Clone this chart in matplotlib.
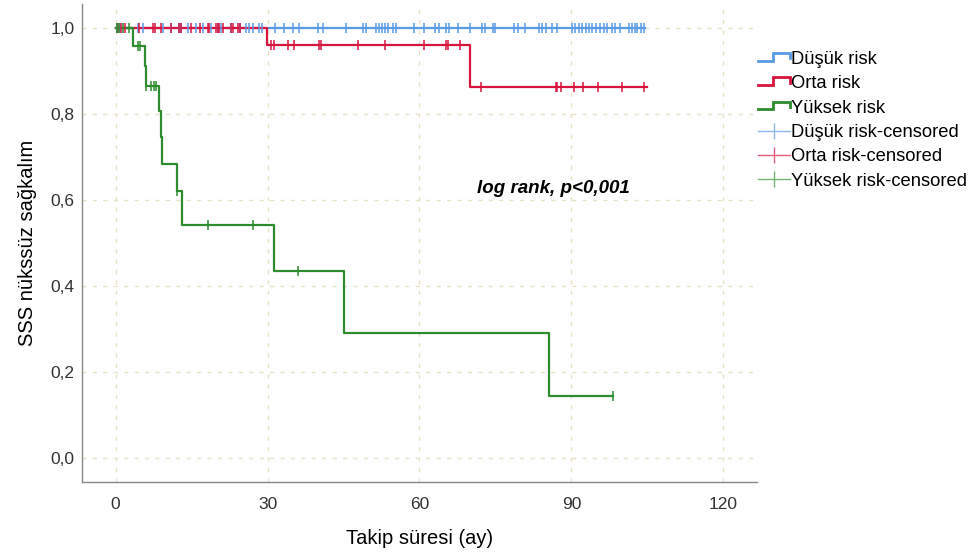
import numpy as np
import matplotlib
matplotlib.use("Agg")
import matplotlib.pyplot as plt
from matplotlib.lines import Line2D
from matplotlib.legend_handler import HandlerBase
from matplotlib.ticker import FuncFormatter

plt.rcParams["font.family"] = ["Liberation Sans", "DejaVu Sans"]

# Kaplan-Meier step data (months, survival)
low_times = [0.0]
low_surv = [1.0]
low_end = 104.5
low_cens = [0.3, 0.8, 4.4, 5.4, 9.3, 11.0, 12.6, 13.0, 14.3, 15.9, 17.2, 18.9, 20.2,
            20.8, 22.8, 24.5, 25.8, 26.4, 27.1, 28.3, 28.9, 31.4, 33.3, 35.0, 36.3,
            39.9, 40.9, 45.5, 48.8, 49.4, 51.4, 52.1, 52.6, 53.1, 53.7, 54.7, 55.4,
            59.0, 60.9, 63.1, 63.8, 65.2, 65.9, 67.7, 69.9, 72.3, 72.9, 74.6, 74.9,
            78.7, 79.5, 80.9, 83.6, 84.2, 85.0, 86.1, 87.2, 90.2, 90.8, 91.5, 92.1,
            92.8, 93.4, 94.1, 94.8, 95.7, 96.4, 97.1, 98.0, 98.6, 99.7, 101.3, 102.0,
            102.5, 103.0, 103.7, 104.3]

mid_times = [0.0, 29.8, 70.0]
mid_surv = [1.0, 0.960, 0.864]
mid_end = 104.9
mid_cens = [0.5, 1.1, 1.8, 4.7, 7.4, 7.7, 9.0, 11.0, 12.6, 13.0, 14.9, 16.6, 18.2,
            18.5, 19.9, 20.2, 20.5, 21.2, 22.8, 23.1, 24.1, 24.5,
            30.7, 31.2, 34.0, 35.3, 40.2, 40.6, 47.8, 53.1, 60.9, 65.2, 65.6, 68.0,
            72.1, 86.9, 87.2, 88.0, 90.5, 92.2, 95.3, 99.9, 104.3]

high_times = [0.0, 3.4, 5.7, 5.9, 8.5, 8.9, 9.1, 12.1, 13.1, 31.2, 45.0, 85.5]
high_surv = [1.0, 0.958, 0.913, 0.866, 0.807, 0.746, 0.683, 0.621, 0.543,
             0.434, 0.291, 0.145]
high_end = 98.3
high_cens = [0.2, 0.7, 1.4, 2.6, 4.4, 4.9, 6.0, 7.0, 7.5, 8.0, 12.2, 18.2, 27.2,
             36.1, 98.3]

groups = ["Düşük risk", "Orta risk", "Yüksek risk"]
colors = ["#5A9BE6", "#D8143E", "#2E8B2E"]
cens_colors = ["#8DB9EE", "#E2607E", "#72B372"]

y_ticks = [0.0, 0.2, 0.4, 0.6, 0.8, 1.0]
x_ticks = [0, 30, 60, 90, 120]


class StepHandler(HandlerBase):
    def create_artists(self, legend, orig_handle, xdescent, ydescent, width,
                       height, fontsize, trans):
        x0, y0 = -xdescent, -ydescent
        lo, hi = y0 + height * 0.25, y0 + height * 0.85
        xs = [x0, x0 + width * 0.45, x0 + width * 0.45, x0 + width, x0 + width]
        ys = [lo, lo, hi, hi, lo + height * 0.2]
        line = Line2D(xs, ys, color=orig_handle.get_color(), lw=2.0,
                      transform=trans, solid_joinstyle="miter")
        return [line]


fig = plt.figure(figsize=(9.74, 5.6), dpi=100)
ax = fig.add_axes([0.0839, 0.1398, 0.693, 0.853])

data = [(low_times, low_surv, low_end, low_cens),
        (mid_times, mid_surv, mid_end, mid_cens),
        (high_times, high_surv, high_end, high_cens)]

step_handles = []
for (t, s, end, cens), col in zip(data, colors):
    tt = list(t) + [end]
    ss = list(s) + [s[-1]]
    h, = ax.step(tt, ss, where="post", color=col, lw=1.6, zorder=3)
    step_handles.append(h)
    idx = np.searchsorted(t, cens, side="right") - 1
    ax.plot(cens, np.array(s)[idx], ls="none", marker="|", ms=7, mew=1.1,
            color=col, zorder=4)

ax.set_xlim(-6.7, 126.6)
ax.set_ylim(-0.055, 1.056)
ax.set_xticks(x_ticks)
ax.set_yticks(y_ticks)
ax.yaxis.set_major_formatter(FuncFormatter(lambda v, p: f"{v:.1f}".replace(".", ",")))
ax.tick_params(length=0, labelsize=12.5, labelcolor="#333333")
ax.tick_params(axis="x", pad=11)
ax.tick_params(axis="y", pad=5)
ax.grid(True, color="#E8E3C8", lw=1.0, ls=(0, (3, 4.5)))
ax.set_axisbelow(True)
for side in ["top", "right"]:
    ax.spines[side].set_visible(False)
for side in ["left", "bottom"]:
    ax.spines[side].set_color("#888888")
    ax.spines[side].set_linewidth(1.0)

ax.set_xlabel("Takip süresi (ay)", fontsize=14.5, labelpad=12)
ax.set_ylabel("SSS nükssüz sağkalım", fontsize=14.5, labelpad=10)

ax.text(71.3, 0.628, "log rank, p<0,001", fontsize=13.5, fontweight="bold",
        fontstyle="italic", va="center", ha="left")

cens_handles = [Line2D([], [], color=c, lw=1.0, marker="|", ms=11, mew=1.0)
                for c in cens_colors]
handles = step_handles + cens_handles
labels = groups + [g + "-censored" for g in groups]
fig.legend(handles, labels, loc="upper left", bbox_to_anchor=(0.771, 0.922),
           frameon=False, fontsize=13.2, handlelength=1.75, handletextpad=0.05,
           labelspacing=0.4, borderaxespad=0,
           handler_map={h: StepHandler() for h in step_handles})

fig.savefig("out.png", dpi=100)
